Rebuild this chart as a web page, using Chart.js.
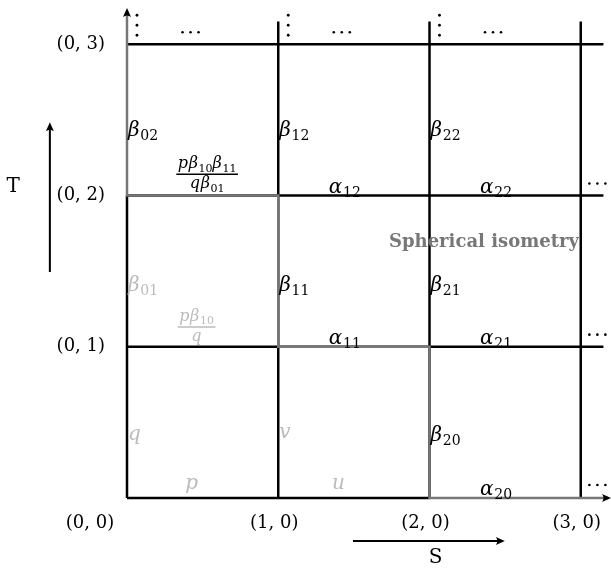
<!DOCTYPE html>
<html>
<head>
<meta charset="utf-8">
<script src="https://cdn.jsdelivr.net/npm/chart.js@4.4.0/dist/chart.umd.min.js"></script>
<style>
  html, body { margin: 0; padding: 0; background: #fff; }
  #wrap { width: 611px; height: 568px; }
</style>
</head>
<body>
<div id="wrap"><canvas id="grid" width="611" height="568"></canvas></div>
<script>
// lattice lines
const gridX = [0, 1, 2, 3];
const gridY = [0, 1, 2, 3];
const lineEnd = 3.15;
// the gray staircase (spherical isometry path)
const stairX = [0, 0, 1, 1, 2, 2, 3.18];
const stairY = [3.22, 2, 2, 1, 1, 0, 0];

const xTicks = ['(0, 0)', '(1, 0)', '(2, 0)', '(3, 0)'];
const yTicks = ['(0, 0)', '(0, 1)', '(0, 2)', '(0, 3)'];

// edge weights: [letter, subscript, x, y(baseline), tone, align]
const edgeLabels = [
  ['β', '02', 0, 2.393, 'ink', 'left'],
  ['β', '12', 1, 2.393, 'ink', 'left'],
  ['β', '22', 2, 2.393, 'ink', 'left'],
  ['β', '01', 0, 1.368, 'faint', 'left'],
  ['β', '11', 1, 1.368, 'ink', 'left'],
  ['β', '21', 2, 1.368, 'ink', 'left'],
  ['β', '20', 2, 0.377, 'ink', 'left'],
  ['q', '', 0, 0.383, 'faint', 'left'],
  ['v', '', 1, 0.397, 'faint', 'left'],
  ['α', '12', 1.44, 2.02, 'ink', 'center'],
  ['α', '22', 2.44, 2.02, 'ink', 'center'],
  ['α', '11', 1.44, 1.02, 'ink', 'center'],
  ['α', '21', 2.44, 1.02, 'ink', 'center'],
  ['α', '20', 2.44, 0.02, 'ink', 'center'],
  ['p', '', 0.43, 0.06, 'faint', 'center'],
  ['u', '', 1.40, 0.06, 'faint', 'center']
];

// fractions: numerator, denominator, x, y(bar), tone
const fractions = [
  [[['p', ''], ['β', '10'], ['β', '11']], [['q', ''], ['β', '01']], 0.53, 2.14, 'ink'],
  [[['p', ''], ['β', '10']], [['q', '']], 0.46, 1.13, 'faint']
];

const vDots = [[0.066, 3.126], [1.066, 3.126], [2.066, 3.126]];
const hDots = [[0.42, 3.08], [1.42, 3.08], [2.42, 3.08], [3.11, 2.08], [3.11, 1.08], [3.11, 0.086]];

const INK = '#000';
const GRAY = '#777';
const FAINT = '#bbb';
const SERIF = '"DejaVu Serif", serif';

const datasets = [];
datasets.push({
  data: stairX.map((v, i) => ({ x: v, y: stairY[i] })),
  borderColor: GRAY
});
gridX.forEach(v => {
  datasets.push({ data: [{ x: v, y: 0 }, { x: v, y: v === 0 ? 2 : lineEnd }], borderColor: INK });
});
gridY.forEach(v => {
  datasets.push({ data: [{ x: 0, y: v }, { x: v === 0 ? 2 : lineEnd, y: v }], borderColor: INK });
});
datasets.forEach(d => {
  d.showLine = true;
  d.pointRadius = 0;
  d.borderWidth = 2.5;
  d.borderCapStyle = 'butt';
  d.borderJoinStyle = 'miter';
  d.clip = false;
  d.fill = false;
});

function mathWidth(ctx, parts, size) {
  let w = 0;
  parts.forEach(([b, s]) => {
    ctx.font = 'italic ' + size + 'px ' + SERIF;
    w += ctx.measureText(b).width + size * 0.04;
    if (s) {
      ctx.font = Math.round(size * 0.68) + 'px ' + SERIF;
      w += ctx.measureText(s).width;
    }
  });
  return w;
}

function drawMath(ctx, parts, x, base, size, align) {
  const w = mathWidth(ctx, parts, size);
  let cx = align === 'center' ? x - w / 2 : x;
  ctx.textAlign = 'left';
  ctx.textBaseline = 'alphabetic';
  parts.forEach(([b, s]) => {
    ctx.font = 'italic ' + size + 'px ' + SERIF;
    ctx.fillText(b, cx, base);
    cx += ctx.measureText(b).width + size * 0.04;
    if (s) {
      ctx.font = Math.round(size * 0.68) + 'px ' + SERIF;
      ctx.fillText(s, cx, base + size * 0.2);
      cx += ctx.measureText(s).width;
    }
  });
  return w;
}

function arrowHead(ctx, x, y, dir) {
  const L = 9, H = 4;
  ctx.beginPath();
  if (dir === 'up') {
    ctx.moveTo(x, y);
    ctx.lineTo(x - H, y + L);
    ctx.quadraticCurveTo(x, y + L - 3, x + H, y + L);
  } else {
    ctx.moveTo(x, y);
    ctx.lineTo(x - L, y - H);
    ctx.quadraticCurveTo(x - L + 3, y, x - L, y + H);
  }
  ctx.closePath();
  ctx.fill();
}

const overlay = {
  id: 'overlay',
  afterDatasetsDraw(chart) {
    const { ctx, scales: { x, y } } = chart;
    const px = v => x.getPixelForValue(v);
    const py = v => y.getPixelForValue(v);
    ctx.save();
    ctx.fillStyle = INK;
    ctx.strokeStyle = INK;

    // axis arrowheads
    arrowHead(ctx, px(0), py(3.24), 'up');
    arrowHead(ctx, px(3.2), py(0), 'right');

    // continuation dots
    vDots.forEach(([a, b]) => {
      for (let k = -1; k <= 1; k++) {
        ctx.beginPath();
        ctx.arc(px(a), py(b) + k * 10, 1.4, 0, Math.PI * 2);
        ctx.fill();
      }
    });
    hDots.forEach(([a, b]) => {
      for (let k = -1; k <= 1; k++) {
        ctx.beginPath();
        ctx.arc(px(a) + k * 8, py(b), 1.3, 0, Math.PI * 2);
        ctx.fill();
      }
    });

    // tick labels
    ctx.font = '18px ' + SERIF;
    ctx.textBaseline = 'middle';
    ctx.textAlign = 'center';
    xTicks.forEach((t, i) => {
      const xx = i === 0 ? px(0) - 37 : px(i) - 4;
      ctx.fillText(t, xx, py(0) + 25);
    });
    ctx.textAlign = 'right';
    yTicks.forEach((t, i) => {
      if (i === 0) return;
      ctx.fillText(t, px(0) - 22, py(i));
    });

    // axis names and direction arrows
    ctx.font = '20px ' + SERIF;
    ctx.textAlign = 'center';
    ctx.fillText('T', px(-0.753), py(2.055));
    ctx.fillText('S', px(2.04), py(-0.397));
    ctx.lineWidth = 2;
    ctx.beginPath();
    ctx.moveTo(px(-0.51), py(1.494));
    ctx.lineTo(px(-0.51), py(2.485) + 6);
    ctx.moveTo(px(1.494), py(-0.284));
    ctx.lineTo(px(2.498) - 6, py(-0.284));
    ctx.stroke();
    arrowHead(ctx, px(-0.51), py(2.485), 'up');
    arrowHead(ctx, px(2.498), py(-0.284), 'right');

    // edge labels
    edgeLabels.forEach(([b, s, a, c, tone, align]) => {
      ctx.fillStyle = tone === 'ink' ? INK : FAINT;
      drawMath(ctx, [[b, s]], px(a) + (align === 'left' ? 1 : 0), py(c), 20, align);
    });

    // fractions
    fractions.forEach(([num, den, a, c, tone]) => {
      const col = tone === 'ink' ? INK : FAINT;
      ctx.fillStyle = col;
      ctx.strokeStyle = col;
      const cx = px(a), bar = py(c);
      const wn = drawMath(ctx, num, cx, bar - 6, 16, 'center');
      const wd = mathWidth(ctx, den, 16);
      drawMath(ctx, den, cx, bar + 14, 16, 'center');
      const bw = Math.max(wn, wd) + 3;
      ctx.lineWidth = 1.5;
      ctx.beginPath();
      ctx.moveTo(cx - bw / 2, bar);
      ctx.lineTo(cx + bw / 2, bar);
      ctx.stroke();
    });

    // annotation
    ctx.fillStyle = GRAY;
    ctx.font = 'bold 18px ' + SERIF;
    ctx.textAlign = 'center';
    ctx.textBaseline = 'middle';
    ctx.fillText('Spherical isometry', px(2.36), py(1.69));

    ctx.restore();
  }
};

new Chart(document.getElementById('grid'), {
  type: 'scatter',
  data: { datasets: datasets },
  options: {
    responsive: false,
    devicePixelRatio: 1,
    animation: false,
    layout: { padding: { left: 127, right: 0, top: 8, bottom: 70 } },
    plugins: { legend: { display: false }, tooltip: { enabled: false } },
    scales: {
      x: { type: 'linear', min: 0, max: 3.2, display: false },
      y: { type: 'linear', min: 0, max: 3.24, display: false }
    }
  },
  plugins: [overlay]
});
</script>
</body>
</html>
